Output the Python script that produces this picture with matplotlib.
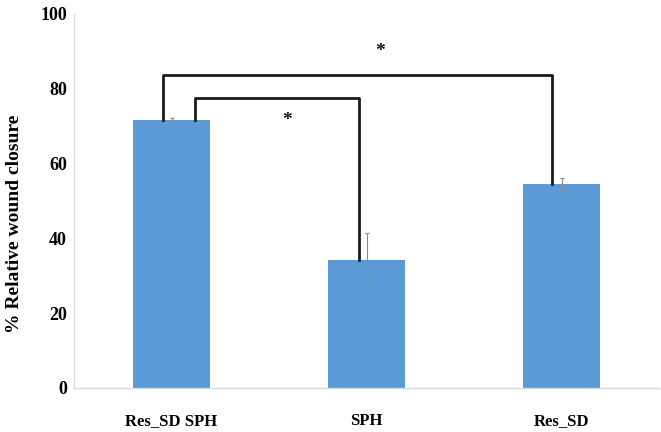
import matplotlib
matplotlib.use("Agg")
import matplotlib.pyplot as plt
import numpy as np

categories = ["Res_SD SPH", "SPH", "Res_SD"]
values = [71.7, 34.3, 54.4]
errors = [0.4, 7.0, 1.8]
yticks = [0, 20, 40, 60, 80, 100]

# significance brackets: (x_left, y_left_bottom, x_right, y_right_bottom, y_top), star (x, y)
brackets = [
    (-0.046, 71.7, 1.949, 54.6, 83.6),
    (0.118, 71.7, 0.959, 34.3, 77.6),
]
stars = [(1.067, 90.0), (0.59, 71.5)]

plt.rcParams['font.family'] = ['Liberation Serif', 'DejaVu Serif']
fig = plt.figure(figsize=(6.61, 4.32), dpi=100)
ax = fig.add_axes([0.112, 0.102, 0.885, 0.866])

x = np.arange(len(categories))
ax.bar(x, values, width=0.395, color="#5B9BD5", zorder=2)
ax.errorbar(x, values, yerr=errors, fmt="none", ecolor="#8a8a8a",
            elinewidth=0.8, capsize=1.5, capthick=0.8, zorder=3)

for (xl, yl, xr, yr, yt) in brackets:
    ax.plot([xl, xl, xr, xr], [yl, yt, yt, yr], color="#1a1a1a", lw=2.0,
            solid_joinstyle="round", zorder=4)
for (sx, sy) in stars:
    ax.text(sx, sy, "*", ha="center", va="center", fontsize=14,
            fontweight="bold", color="#111111")

ax.set_xlim(-0.5, 2.5)
ax.set_ylim(0, 100)
ax.set_yticks(yticks)
ax.set_yticklabels([str(t) for t in yticks], fontsize=13, fontweight="bold")
ax.set_xticks(x)
ax.set_xticklabels(categories, fontsize=12, fontweight="bold")
ax.tick_params(axis="both", length=0)
ax.tick_params(axis="y", pad=5)
ax.tick_params(axis="x", pad=18)
for s in ["top", "right"]:
    ax.spines[s].set_visible(False)
for s in ["left", "bottom"]:
    ax.spines[s].set_color("#d9d9d9")
    ax.spines[s].set_linewidth(1.0)
fig.text(15 / 661, 1 - 224 / 432, "% Relative wound closure", rotation=90,
         ha="center", va="center", fontsize=14, fontweight="bold")

fig.savefig("out.png", dpi=100)
